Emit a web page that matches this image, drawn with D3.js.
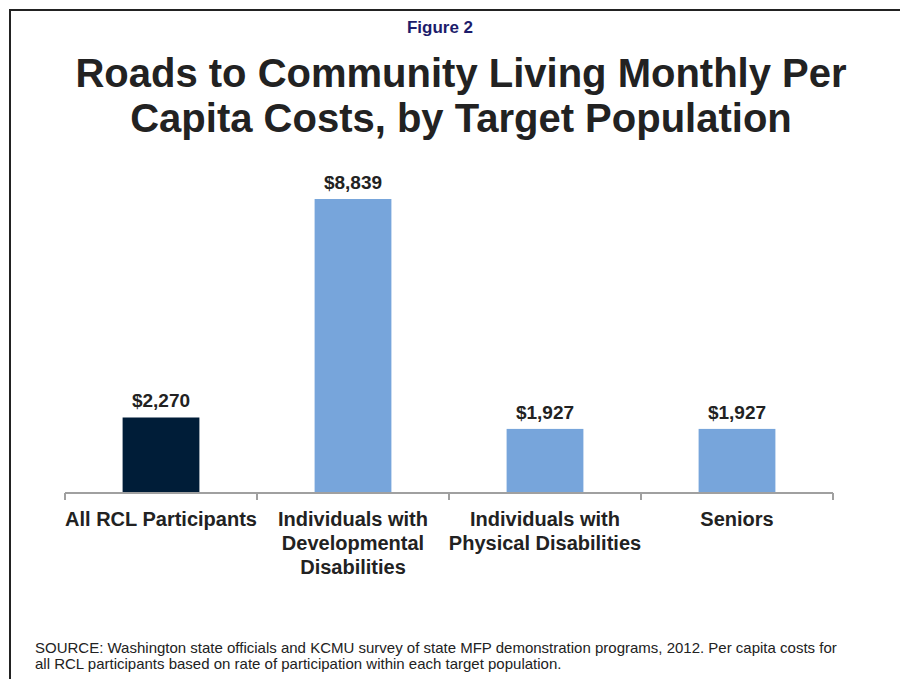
<!DOCTYPE html>
<html>
<head>
<meta charset="utf-8">
<script src="https://cdn.jsdelivr.net/npm/d3@7"></script>
<style>
  html, body { margin: 0; padding: 0; background: #fff; }
  svg { display: block; font-family: "Liberation Sans", Arial, sans-serif; }
</style>
</head>
<body>
<svg id="chart" width="900" height="679"></svg>
<script>
const categories = ["All RCL Participants", "Individuals with Developmental Disabilities", "Individuals with Physical Disabilities", "Seniors"];
const categoryLines = [["All RCL Participants"], ["Individuals with", "Developmental", "Disabilities"], ["Individuals with", "Physical Disabilities"], ["Seniors"]];
const values = [2270, 8839, 1927, 1927];
const valueLabels = ["$2,270", "$8,839", "$1,927", "$1,927"];
const barColors = ["#001d38", "#77a5db", "#77a5db", "#77a5db"];
const figureLabel = "Figure 2";
const titleLines = ["Roads to Community Living Monthly Per", "Capita Costs, by Target Population"];
const sourceLines = ["SOURCE: Washington state officials and KCMU survey of state MFP demonstration programs, 2012. Per capita costs for", "all RCL participants based on rate of participation within each target population."];

const svg = d3.select("#chart");

// frame
svg.append("path")
  .attr("d", "M10,679 L10,10 L900,10")
  .attr("fill", "none")
  .attr("stroke", "#222")
  .attr("stroke-width", 2);

svg.append("text")
  .attr("x", 440).attr("y", 33)
  .attr("text-anchor", "middle")
  .attr("font-size", 17).attr("font-weight", "bold")
  .attr("fill", "#1c1c6b")
  .text(figureLabel);

svg.append("g").selectAll("text").data(titleLines).join("text")
  .attr("x", 461).attr("y", (d, i) => 87 + i * 44.5)
  .attr("text-anchor", "middle")
  .attr("font-size", 40).attr("font-weight", "bold")
  .attr("fill", "#222")
  .text(d => d);

const x = d3.scaleBand().domain(categories).range([65, 833]).paddingInner(0.6).paddingOuter(0.3);
const baseY = 493;
const y = d3.scaleLinear().domain([0, 10000]).range([baseY, baseY - 332.6]);

svg.append("g").selectAll("rect").data(values).join("rect")
  .attr("x", (d, i) => x(categories[i]))
  .attr("y", d => y(d))
  .attr("width", x.bandwidth())
  .attr("height", d => baseY - y(d))
  .attr("fill", (d, i) => barColors[i]);

// axis
const axisG = svg.append("g").attr("transform", `translate(0,${baseY})`);
axisG.append("line").attr("x1", 65).attr("x2", 833).attr("y1", 0).attr("y2", 0)
  .attr("stroke", "#a0a0a0").attr("stroke-width", 2);
const tickPos = categories.map((c, i) => 65 + i * x.step());
tickPos.push(833);
axisG.selectAll("line.tick").data(tickPos).join("line").attr("class", "tick")
  .attr("x1", d => d).attr("x2", d => d).attr("y1", 0).attr("y2", 7)
  .attr("stroke", "#a0a0a0").attr("stroke-width", 2);

// value labels
svg.append("g").selectAll("text").data(values).join("text")
  .attr("x", (d, i) => x(categories[i]) + x.bandwidth() / 2)
  .attr("y", d => y(d) - 10)
  .attr("text-anchor", "middle")
  .attr("font-size", 19).attr("font-weight", "bold")
  .attr("fill", "#222")
  .text((d, i) => valueLabels[i]);

// category labels
categoryLines.forEach((lines, i) => {
  svg.append("text")
    .attr("text-anchor", "middle")
    .attr("font-size", 20).attr("font-weight", "bold")
    .attr("fill", "#222")
    .selectAll("tspan").data(lines).join("tspan")
    .attr("x", x(categories[i]) + x.bandwidth() / 2)
    .attr("y", (d, j) => 526 + j * 24)
    .text(d => d);
});

// source
svg.append("g").selectAll("text").data(sourceLines).join("text")
  .attr("x", 35).attr("y", (d, i) => 653 + i * 16)
  .attr("font-size", 15)
  .attr("fill", "#222")
  .text(d => d);
</script>
</body>
</html>
